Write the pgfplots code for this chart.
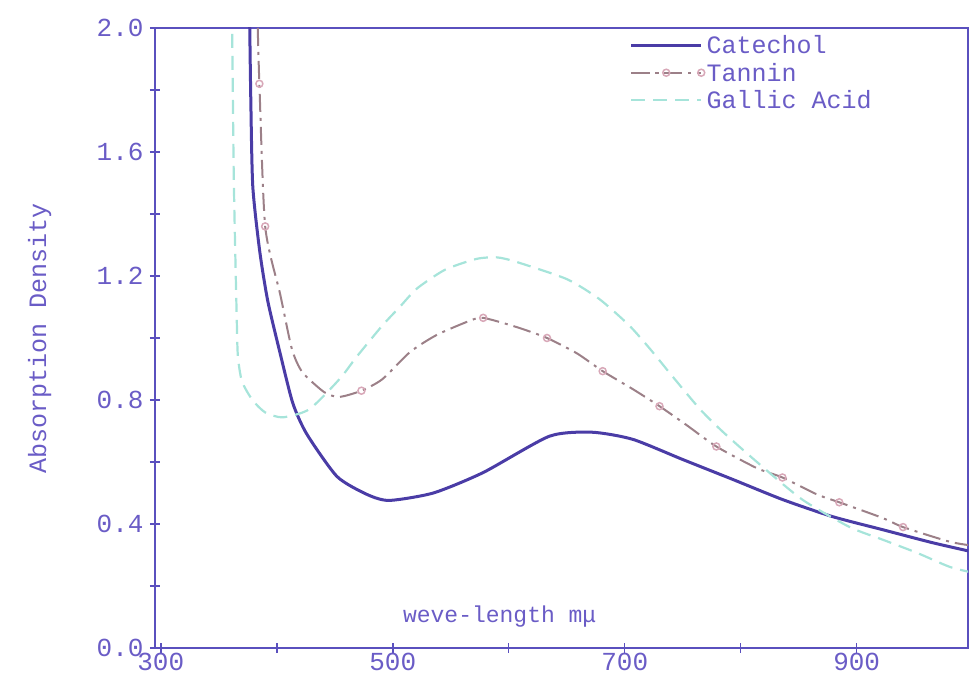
\documentclass[border=0pt]{standalone}
\usepackage{fontspec}
\setmainfont{Liberation Mono}
\usepackage{pgfplots}
\pgfplotsset{compat=1.18}
\definecolor{axiscol}{HTML}{5A50BE}
\definecolor{txtcol}{HTML}{6A5CC6}
\definecolor{catcol}{HTML}{4A3CA6}
\definecolor{tancol}{HTML}{9C8088}
\definecolor{tanmark}{HTML}{D8A8B8}
\definecolor{galcol}{HTML}{A6E4DA}

\begin{document}
\begin{tikzpicture}
\begin{axis}[
  scale only axis, width=813pt, height=620pt,
  xmin=295, xmax=996, ymin=0, ymax=2.0,
  axis line style={axiscol, line width=1.8pt},
  xtick={300,400,500,600,700,800,900},
  xticklabels={300,,500,,700,,900},
  ytick={0,0.4,0.8,1.2,1.6,2.0},
  yticklabels={0.0,0.4,0.8,1.2,1.6,2.0},
  minor ytick={0.2,0.6,1.0,1.4,1.8},
  xtick pos=bottom, ytick pos=left,
  tick align=center,
  major tick length=10pt, minor tick length=10pt,
  every tick/.style={axiscol, line width=1.5pt},
  tick label style={font=\fontsize{26}{28}\selectfont, text=txtcol},
  xticklabel style={yshift=1pt, inner sep=1pt},
  yticklabel style={xshift=-3pt},
  every axis y label/.style={at={(rel axis cs:-0.142,0.5)}, rotate=90, anchor=center,
    font=\fontsize{25}{27}\selectfont, text=txtcol},
  every axis x label/.style={at={(rel axis cs:0.424,0.05)}, anchor=center,
    font=\fontsize{23}{25}\selectfont, text=txtcol},
  ylabel={Absorption Density},
  xlabel={weve-length mμ},
  legend style={draw=none, fill=none, at={(0.58,0.995)}, anchor=north west,
    font=\fontsize{25}{27}\selectfont, text=txtcol, row sep=4pt},
  legend cell align=left,
  legend image code/.code={\draw[mark repeat=2,mark phase=2,#1] plot coordinates {(0pt,0pt) (35pt,0pt) (70pt,0pt)};},
]

% Catechol
\addplot[catcol, line width=3pt, smooth, tension=0.4] coordinates {
  (376.5,2.05) (376.7,2.0) (377.6,1.77) (379.3,1.49) (385.3,1.28) (392.2,1.12)
  (402.6,0.955) (413.8,0.79) (425.9,0.69) (452,0.553) (478,0.495) (497,0.476)
  (535,0.50) (578,0.566) (635,0.683) (672,0.696) (707,0.673) (750,0.608)
  (793,0.544) (836,0.479) (879,0.424) (922,0.382) (965,0.34) (1000,0.31)
};

% Tannin
\addplot[tancol, line width=2pt, smooth, tension=0.4,
  dash pattern=on 18pt off 6pt on 3pt off 6pt,
  mark=o, mark size=3.5pt, mark indices={2,3,9,14,16,18,20,22,24,26,28},
  mark options={solid, tanmark, line width=1.5pt}] coordinates {
  (383.6,2.0) (385,1.82) (390,1.36) (403,1.14) (413,0.965) (422,0.89)
  (441,0.825) (454,0.81) (473,0.83) (491,0.867) (515,0.955) (538,1.01)
  (566,1.055) (578,1.065) (607,1.035) (633,1.0) (659,0.95) (681,0.893)
  (707,0.835) (730,0.78) (753,0.72) (779,0.65) (814,0.58) (836,0.55)
  (866,0.495) (885,0.47) (922,0.42) (940,0.39) (980,0.343) (1000,0.33)
};

% Gallic acid
\addplot[galcol, line width=2.2pt, smooth, tension=0.4,
  dash pattern=on 14pt off 8pt] coordinates {
  (361,2.05) (361.5,2.0) (363,1.5) (365.5,1.06) (366.5,0.94) (370,0.86)
  (379,0.80) (390,0.76) (405,0.744) (428,0.77) (454,0.867) (469,0.94)
  (491,1.04) (506,1.1) (521,1.16) (545,1.22) (572,1.255) (590,1.26)
  (607,1.245) (650,1.19) (678,1.126) (704,1.04) (722,0.964) (741,0.877)
  (765,0.77) (785,0.696) (814,0.6) (853,0.479) (894,0.39) (922,0.35)
  (952,0.307) (980,0.262) (1000,0.243)
};

\legend{Catechol, Tannin, Gallic Acid}
\end{axis}
\pgfresetboundingbox
\path[use as bounding box] ([xshift=-155pt,yshift=-28pt]current axis.south west)
  rectangle ([xshift=4pt,yshift=28pt]current axis.north east);
\end{tikzpicture}
\end{document}
